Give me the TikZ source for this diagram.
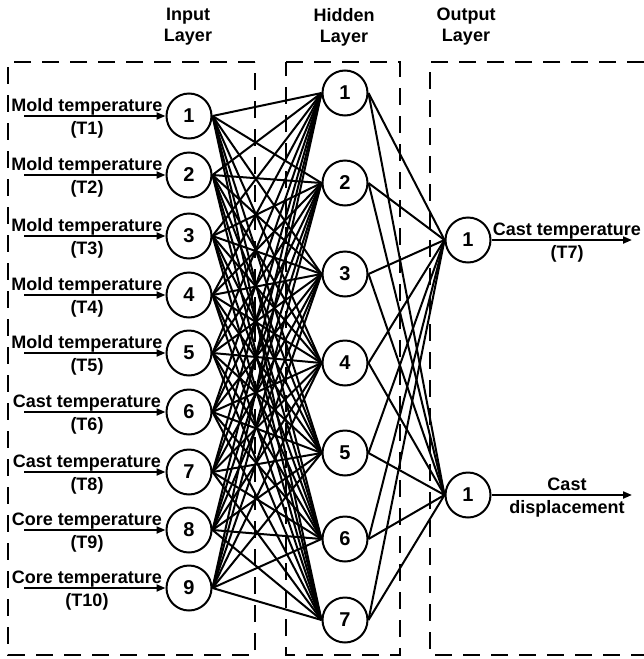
\documentclass[tikz,border=0pt]{standalone}
\usepackage{fontspec}
\setmainfont{Liberation Sans}
\usetikzlibrary{arrows.meta}
\begin{document}
\begin{tikzpicture}[x=1pt,y=-1pt,
  neuron/.style={circle,draw,line width=2pt,minimum size=45pt,inner sep=0pt,font=\fontsize{20}{22}\selectfont\bfseries},
  lbl/.style={font=\fontsize{18}{20}\selectfont\bfseries,inner sep=0pt},
  title/.style={font=\fontsize{18}{21}\selectfont\bfseries,align=center,inner sep=0pt},
  conn/.style={line width=2pt},
  inarrow/.style={line width=2pt,-{Triangle[length=9pt,width=7pt]}},
  box/.style={line width=2.4pt,dash pattern=on 17pt off 11pt}]
\useasboundingbox (0,0) rectangle (644,659);
% boxes
\draw[box] (255,62) -- (8,62) -- (8,655) -- (255,655) -- (255,62);
\draw[box] (286,62) -- (400,62) -- (400,655) -- (286,655) -- (286,62);
\draw[box] (644,62) -- (430,62) -- (430,655) -- (644,655);
% titles
\node[title] (tin) at (188,27) {Input\\Layer};
\node[title] (thid) at (344,27) {Hidden\\Layer};
\node[title] (tout) at (466,27) {Output\\Layer};
% input nodes
\foreach \i/\y in {1/116,2/175,3/236,4/295,5/353,6/412,7/472,8/530,9/588}
  \node[neuron] (i\i) at (189,\y) {\i};
% hidden nodes
\foreach \j/\y in {1/93,2/183,3/274,4/363,5/453,6/539,7/620}
  \node[neuron] (h\j) at (345,\y) {\j};
% output nodes
\node[neuron] (o1) at (468,240) {1};
\node[neuron] (o2) at (468,495) {1};
% connections
\foreach \i in {1,...,9}
  \foreach \j in {1,...,7}
    \draw[conn] (i\i.east) -- (h\j.west);
\foreach \j in {1,...,7}
  \foreach \k in {1,2}
    \draw[conn] (h\j.east) -- (o\k.west);
% input arrows and labels
\foreach \i/\a/\b in {1/Mold temperature/(T1),2/Mold temperature/(T2),3/Mold temperature/(T3),4/Mold temperature/(T4),5/Mold temperature/(T5),6/Cast temperature/(T6),7/Cast temperature/(T8),8/Core temperature/(T9),9/Core temperature/(T10)}{
  \coordinate (s\i) at (24,0 |- i\i.west);
  \draw[inarrow] (s\i) -- (i\i.west);
  \node[lbl,anchor=base] (la\i) at ([shift={(63,-5)}]s\i) {\a};
  \node[lbl,anchor=base] (lb\i) at ([shift={(63,18)}]s\i) {\b};
}
% output arrows
\coordinate (e1) at (632,240);
\coordinate (e2) at (632,495);
\draw[inarrow] (o1.east) -- (e1);
\draw[inarrow] (o2.east) -- (e2);
\node[lbl,anchor=base] (oa1) at (567,235) {Cast temperature};
\node[lbl,anchor=base] (ob1) at (567,258) {(T7)};
\node[lbl,anchor=base] (oa2) at (567,490) {Cast};
\node[lbl,anchor=base] (ob2) at (567,513) {displacement};
\end{tikzpicture}
\end{document}
